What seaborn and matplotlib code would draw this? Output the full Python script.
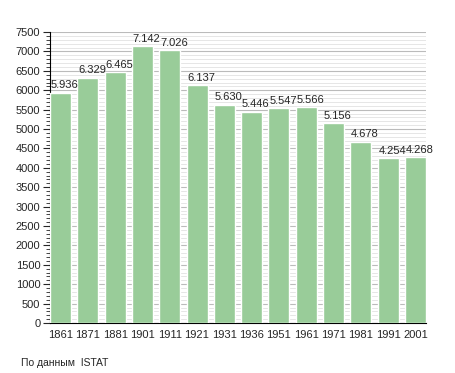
import matplotlib
matplotlib.use("Agg")
import matplotlib.pyplot as plt
import seaborn as sns
import pandas as pd
from matplotlib.ticker import MultipleLocator

years = ["1861", "1871", "1881", "1901", "1911", "1921", "1931",
         "1936", "1951", "1961", "1971", "1981", "1991", "2001"]
population = [5936, 6329, 6465, 7142, 7026, 6137, 5630,
              5446, 5547, 5566, 5156, 4678, 4254, 4268]
value_labels = ["5.936", "6.329", "6.465", "7.142", "7.026", "6.137", "5.630",
                "5.446", "5.547", "5.566", "5.156", "4.678", "4.254", "4.268"]

df = pd.DataFrame({"year": years, "population": population})

sns.set_style("white")
plt.rcParams["font.family"] = ["Liberation Sans", "DejaVu Sans"]

bar_width = 0.77

fig = plt.figure(figsize=(4.55, 3.73), dpi=100)
ax = fig.add_axes([0.110, 0.134, 0.826, 0.780])

sns.barplot(data=df, x="year", y="population", color="#99cc99",
            saturation=1, width=bar_width, ax=ax, zorder=3)

ax.set_ylim(0, 7500)
ax.set_xlim(-bar_width / 2, len(years) - 1 + bar_width / 2)
ax.yaxis.set_major_locator(MultipleLocator(500))
ax.yaxis.set_minor_locator(MultipleLocator(100))
ax.grid(axis="y", which="major", color="#bbbbbb", linewidth=0.8, zorder=0)
ax.grid(axis="y", which="minor", color="#e2e2e2", linewidth=0.6, zorder=0)
ax.set_axisbelow(True)

# value labels sit left-aligned on the bar's left edge
for i, (v, lab) in enumerate(zip(population, value_labels)):
    ax.text(i - bar_width / 2 + 0.03, v + 60, lab, ha="left", va="bottom",
            fontsize=8, zorder=4)

for side in ["top", "right"]:
    ax.spines[side].set_visible(False)
ax.spines["left"].set_color("black")
ax.spines["bottom"].set_color("black")
ax.tick_params(axis="y", which="major", left=True, length=5, width=0.8, labelsize=8, pad=2)
ax.tick_params(axis="y", which="minor", left=True, length=3, width=0.6)
ax.tick_params(axis="x", bottom=False, labelsize=8, pad=1.5)
ax.set_xlabel("")
ax.set_ylabel("")

fig.text(0.046, 0.018, "По данным  ISTAT", fontsize=7.5)

fig.savefig("out.png", dpi=100)
